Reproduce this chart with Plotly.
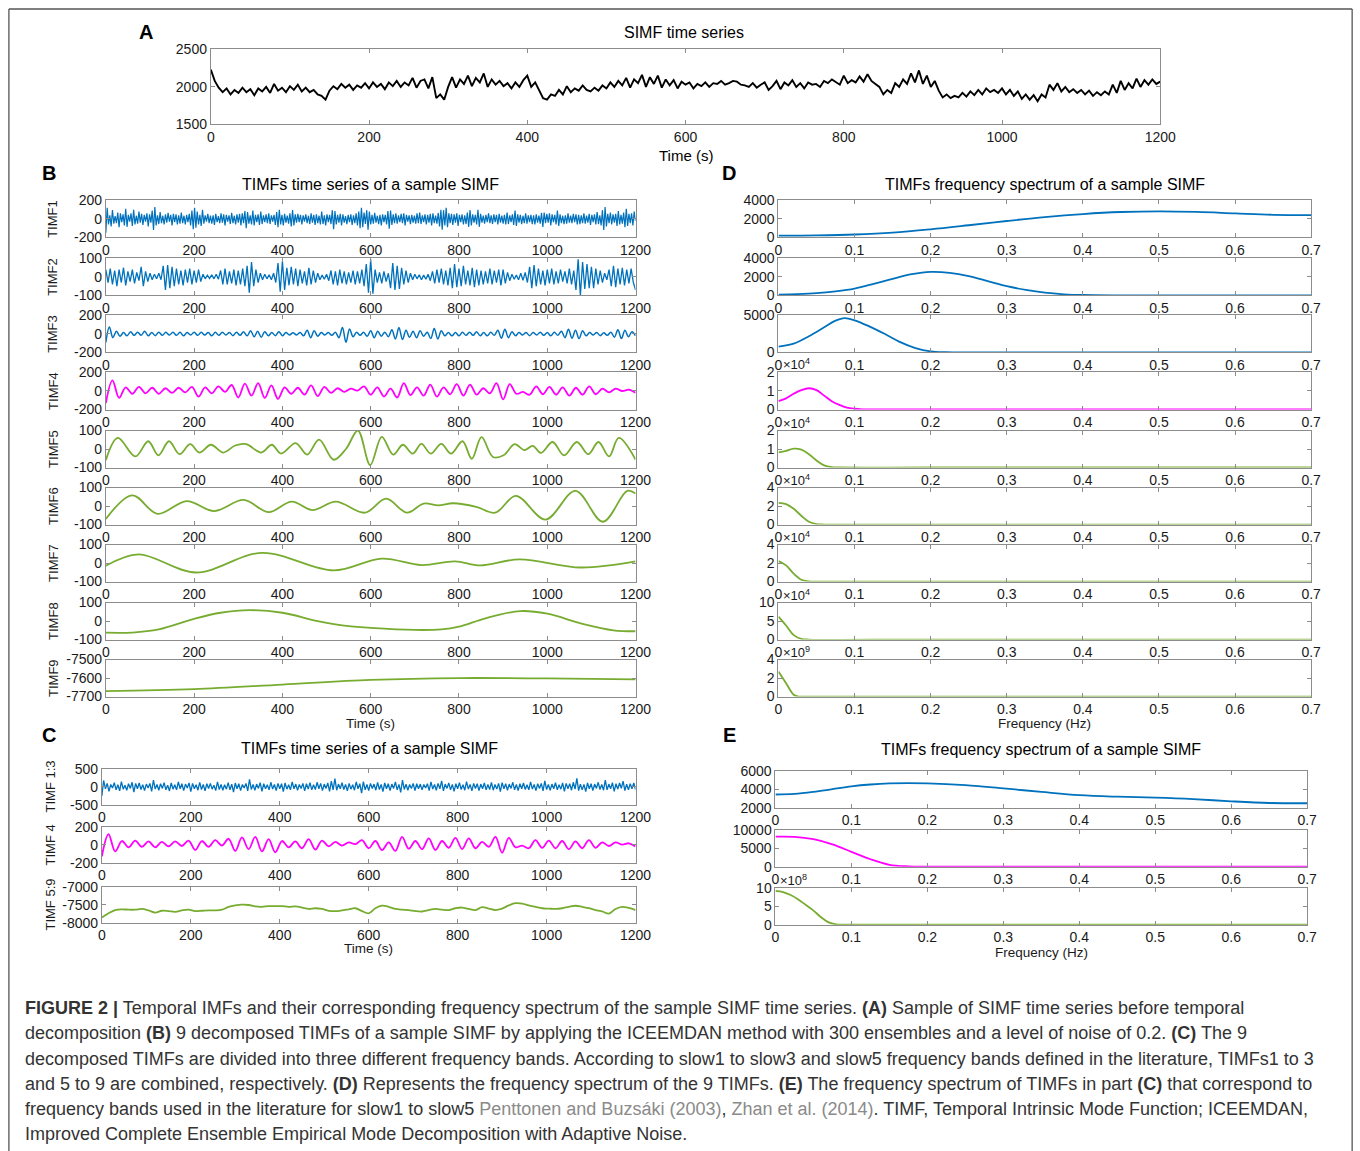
import numpy as np
import plotly.graph_objects as go

# Layout positions below are given in target-picture pixels (1360 x 1151) and
# converted to paper coordinates with the measured page placement of the figure
# (page body margin is removed by a small post script).
FIG_W, FIG_H = 1375, 1165
SCALE = 0.986
OFF_X, OFF_Y = 3.1, 6.6
FONT = "Liberation Sans, Arial, Helvetica, sans-serif"
TXT = "#1a1a1a"
BOX = "#8c8c8c"
BLUE = "#0072BD"
MAG = "#FF00FF"
GREEN = "#77AC30"

# ---------------- data ----------------
simf = [2230, 2080, 1990, 1930, 1980, 1900, 1960, 1920, 1990, 1930, 1970, 1890, 1980, 1940, 2000, 1920, 2040, 1950, 1990, 1930,
        2010, 1960, 2030, 1940, 1990, 1930, 1960, 1900, 1880, 1830, 1950, 2010, 1970, 2040, 1990, 2030, 1960, 2020, 1990, 2050,
        1980, 2060, 2000, 2040, 1970, 2060, 2010, 2080, 2000, 2060, 2020, 2120, 1990, 2080, 2100, 1980, 2130, 1850, 1900, 1830,
        2000, 2130, 1990, 2100, 2040, 2150, 2010, 2120, 2060, 2180, 2000, 2100, 2030, 2080, 2010, 2050, 1980, 2060, 2000, 2090,
        2150, 2000, 2060, 1950, 1850, 1830, 1900, 1880, 1960, 1900, 2010, 1930, 1980, 1950, 2020, 1960, 1940, 1990, 1950, 2020,
        1980, 2060, 2000, 2080, 2020, 2120, 1990, 2100, 2050, 2160, 2000, 2130, 2040, 2150, 1990, 2100, 2020, 2090, 1980, 2070,
        2030, 2060, 1980, 2040, 2010, 2060, 2000, 2050, 2040, 2080, 2030, 2050, 2080, 2070, 2030, 2020, 2000, 2050, 1990, 2030,
        2060, 1960, 2010, 2080, 1970, 2060, 2020, 2090, 2000, 2050, 1980, 2060, 2030, 2040, 2000, 2080, 2050, 2100, 2060, 2030,
        2150, 2050, 2090, 2060, 2140, 2070, 2170, 2080, 2040, 2000, 1900, 1960, 1920, 2050, 2000, 2100, 2040, 2180, 2060, 2220,
        2040, 2150, 2000, 2080, 1950, 1860, 1900, 1850, 1880, 1860, 1920, 1870, 1940, 1890, 1960, 1900, 1980, 1930, 1960, 1920,
        1980, 1900, 1960, 1880, 1940, 1840, 1900, 1830, 1890, 1810, 1900, 1860, 2030, 1960, 2050, 1940, 2000, 1930, 1970, 1920,
        1960, 1900, 1950, 1880, 1930, 1890, 1940, 1900, 2030, 1920, 2080, 1960, 2050, 1980, 2110, 2000, 2090, 2030, 2100, 2040,
        2070]

timf1 = [-150, 120, -60, 40, -80, 95, -50, 30, -45, 70, -90, 60, -35, 50, -70, 110, -85, 45, -30, 60,
         -75, 100, -60, 35, -50, 80, -40, 55, -65, 45, -30, 60, -80, 50, -40, 90, -120, 130, -70, 40,
         -55, 75, -45, 35, -60, 50, -40, 65, -30, 45, -70, 55, -35, 50, -60, 40, -50, 70, -45, 35,
         -60, 45, -35, 55, -70, 90, -110, 120, -95, 80, -60, 45, -75, 100, -50, 40, -30, 55, -45, 35,
         -50, 40, -65, 55, -35, 30, -45, 60, -40, 50, -70, 45, -30, 40, -55, 65, -45, 35, -60, 50,
         -40, 55, -70, 60, -45, 85, -100, 75, -50, 40, -60, 90, -70, 45, -35, 50, -65, 80, -55, 40,
         -35, 50, -45, 60, -55, 40, -30, 45, -65, 75, -90, 100, -60, 45, -70, 55, -40, 35, -50, 60,
         -80, 95, -70, 50, -40, 55, -35, 45, -60, 40, -30, 50, -45, 35, -55, 60, -40, 45, -65, 50,
         -45, 35, -60, 80, -55, 40, -70, 50, -35, 45, -55, 95, -110, 85, -60, 45, -40, 55, -70, 50,
         -40, 30, -55, 45, -35, 50, -65, 40, -45, 60, -70, 80, -100, 120, -90, 70, -55, 95, -115, 80,
         -60, 45, -50, 65, -40, 35, -55, 45, -70, 50, -35, 45, -60, 85, -105, 90, -65, 50, -45, 60,
         -50, 40, -35, 55, -45, 60, -70, 45, -30, 40, -55, 45, -40, 35, -50, 60, -45, 70, -55, 40,
         -35, 50, -60, 45, -40, 55, -70, 60, -45, 35, -50, 65, -80, 100, -115, 95, -70, 120, -90, 60,
         -45, 55, -65, 50, -40, 60, -75, 45, -35, 50, -60, 40, -55, 70, -85, 95, -70, 50, -40, 45,
         -60, 100, -85, 55, -40, 35, -50, 45, -35, 60, -45, 40, -55, 50, -35, 45, -60, 55, -40, 35,
         -50, 45, -60, 70, -55, 40, -35, 50, -65, 90, -75, 50, -40, 45, -55, 35, -45, 60, -50, 40,
         -35, 45, -55, 40, -60, 50, -40, 35, -50, 65, -85, 70, -45, 55, -40, 60, -70, 50, -35, 45,
         -60, 90, -75, 50, -45, 35, -55, 40, -50, 60, -40, 35, -45, 55, -35, 50, -60, 45, -55, 40,
         -45, 60, -50, 35, -40, 55, -65, 45, -35, 50, -60, 75, -55, 40, -70, 95, -120, 130, -80, 55,
         -45, 70, -60, 50, -40, 55, -75, 85, -60, 45, -50, 70, -90, 110, -75, 55, -45, 60, -70, 80,
         -20]

timf2 = [40, -30, 45, -40, 35, -50, 40, -30, 50, -45, 30, -25, 40, -35, 25, -20, 55, -50, 30, -25,
         20, -15, 15, -10, 20, -15, 60, -70, 65, -60, 55, -50, 45, -40, 35, -45, 40, -30, 45, -40,
         35, -30, 40, -25, 15, -10, 10, -8, 12, -10, 15, -12, 35, -40, 45, -40, 30, -35, 40, -45,
         35, -40, 45, -50, 60, -85, 80, -50, 40, -30, 20, -15, 15, -10, 12, -15, 20, -30, 75, -80,
         85, -70, 50, -45, 55, -40, 45, -50, 40, -35, 30, -45, 50, -40, 35, -30, 20, -15, 10, -12,
         15, -20, 35, -40, 30, -45, 40, -35, 30, -40, 25, -30, 35, -40, 30, -35, 40, -50, 70, -85,
         95, -90, 40, -30, 25, -35, 30, -25, 20, -60, 75, -70, 60, -65, 50, -40, 35, -30, 20, -15,
         15, -10, 12, -15, 10, -12, 15, -20, 30, -35, 40, -30, 45, -40, 35, -45, 50, -60, 70, -55,
         45, -50, 60, -40, 35, -45, 50, -55, 40, -45, 35, -40, 30, -35, 45, -40, 35, -30, 40, -45,
         40, -35, 25, -20, 15, -12, 10, -15, 20, -18, 25, -30, 55, -60, 65, -50, 45, -40, 35, -45,
         40, -35, 45, -40, 30, -35, 40, -25, 30, -35, 45, -40, 35, -70, 95, -100, 80, -65, 70, -60,
         55, -60, 45, -40, 35, -30, 20, -15, 40, -50, 60, -55, 45, -40, 50, -45, 40, -35, 45, -30,
         -70]

timf3 = [-90, 75, -40, 30, -25, 15, -20, 25, -15, 20, -15, 30, -20, 15, -18, 20, -15, 18, -12, 20, -15, 18, -20, 15, -12,
         20, -15, 18, -12, 15, -20, 18, -15, 20, -12, 15, -18, 20, -15, 25, -20, 35, -30, 30, -35, 25, -20, 15, -18, 25,
         -20, 15, -10, 12, -10, 15, -20, 40, -40, 35, -25, 15, -12, 15, -15, 20, -40, 70, -90, 55, -30, 20, -15, 20, -25,
         35, -40, 30, -25, 20, -30, 45, -55, 70, -60, 40, -35, 30, -40, 35, -25, 20, -50, 60, -55, 35, -20, 15, -20, 15,
         -20, 18, -15, 20, -15, 25, -20, 15, -20, 18, -15, 40, -45, 50, -40, 25, -20, 15, -12, 15, -18, 15, -12, 20, -15,
         15, -20, 18, -15, 30, -40, 50, -45, 40, -50, 35, -20, 15, -12, 15, -18, 12, -15, 20, -35, 45, -50, 40, -30, 25,
         -20]

timf4 = [-130, 115, -75, 40, -30, 45, -25, 35, -30, 30, -20, 35, -15, 45, -60, 40, -25, 50, -10, 65,
         -70, 80, -50, 85, -75, 60, -85, 40, -30, 35, -40, 60, -55, 45, -20, 30, -10, 25, 5, 50,
         -40, 40, -60, 25, -70, 85, -45, 40, -50, 70, -60, 40, -35, 75, -50, 70, -40, 30, -25, 85,
         -90, 75, -30, -10, -40, 50, -35, 45, -40, 40, -50, 35, -40, 50, -35, 25, -15, 25, 0, 15,
         -20]

timf5_t = [0, 27, 67, 96, 119, 143, 167, 191, 212, 238, 266, 293, 318, 352, 376, 397, 430, 456, 483, 516,
           544, 571, 599, 625, 651, 673, 695, 715, 736, 760, 782, 808, 829, 851, 877, 901, 926, 948, 967, 986,
           1012, 1038, 1067, 1093, 1116, 1140, 1162, 1200]
timf5_v = [-60, 60, -40, 42, -34, 42, -28, 26, -19, 23, -19, 19, 26, -19, 23, -25, 32, -30, 51, -58,
           0, 100, -87, 66, -30, 23, -25, 28, -25, 28, -25, 42, -53, 64, -43, -34, 26, -6, 17, -21,
           38, -34, 38, -28, 38, -40, 60, -57]

timf6_t = [0, 60, 117, 183, 245, 312, 369, 421, 468, 521, 587, 635, 682, 720, 753, 787, 839, 882, 929, 996,
           1064, 1126, 1181, 1200]
timf6_v = [-70, 58, -42, 27, -27, 33, -33, 24, -22, 24, -36, 40, -36, 13, 4, 15, -4, -36, 55, -73,
           82, -85, 82, 67]

timf7_t = [0, 74, 204, 354, 516, 625, 715, 791, 848, 937, 1076, 1200]
timf7_v = [-15, 47, -51, 55, -40, 24, -11, 9, -13, 20, -24, 9]

timf8_t = [0, 60, 120, 200, 260, 326, 400, 480, 540, 600, 700, 760, 800, 860, 939, 1000, 1080, 1150, 1200]
timf8_v = [-63, -62, -45, 12, 45, 59, 45, 0, -25, -37, -48, -45, -30, 15, 54, 40, -15, -50, -55]

timf9_t = [0, 200, 400, 600, 800, 1000, 1200]
timf9_v = [-7670, -7660, -7635, -7610, -7600, -7602, -7607]

timf13 = [-260, 170, -60, 90, -130, 60, -40, 110, -90, 50, -120, 140, -70, 40, -100, 80, -50, 120, -150, 90,
          -60, 100, -80, 50, -110, 70, -40, 90, -130, 180, -70, 60, -100, 80, -50, 110, -90, 40, -120, 100,
          -70, 50, -90, 130, -60, 80, -110, 70, -40, 100, -140, 90, -60, 50, -100, 120, -80, 60, -120, 80,
          -50, 90, -70, 40, -110, 130, -80, 60, -100, 50, -70, 110, -90, 70, -150, 100, -60, 80, -110, 60,
          -40, 90, -120, 200, -80, 60, -100, 70, -50, 110, -130, 80, -60, 50, -90, 120, -70, 60, -110, 90,
          -60, 80, -140, 100, -70, 50, -90, 130, -60, 70, -100, 60, -50, 90, -120, 80, -70, 110, -90, 50,
          -80, 120, -60, 90, -110, 70, -50, 100, -130, 150, -90, 220, -100, 70, -60, 110, -80, 60, -120, 90,
          -70, 50, -100, 130, -60, 80, -180, 140, -90, 60, -110, 90, -50, 70, -100, 120, -80, 60, -140, 100,
          -60, 80, -110, 70, -50, 130, -90, 60, -160, 180, -80, 70, -100, 60, -50, 90, -110, 80, -60, 70,
          -90, 60, -40, 80, -110, 130, -70, 60, -100, 90, -60, 160, -120, 70, -50, 100, -90, 60, -130, 80,
          -60, 110, -80, 50, -100, 140, -70, 60, -120, 90, -50, 80, -110, 70, -60, 100, -90, 60, -80, 120,
          -100, 60, -70, 90, -140, 110, -60, 80, -100, 70, -50, 120, -90, 60, -110, 80, -60, 100, -80, 50,
          -90, 130, -70, 60, -110, 80, -50, 90, -120, 160, -80, 60, -100, 70, -60, 110, -90, 50, -70, 100,
          -130, 90, -60, 80, -100, 120, -70, 230, -110, 70, -90, 60, -140, 100, -60, 80, -110, 70, -50, 120,
          -80, 60, -100, 180, -90, 70, -60, 110, -130, 80, -70, 100, -50, 150, -110, 70, -90, 80, -60, 100,
          -80]

timf59 = [-7860, -7740, -7650, -7630, -7640, -7640, -7620, -7660, -7720, -7670, -7680, -7700, -7660, -7640, -7680, -7670, -7660, -7660, -7640, -7560,
          -7520, -7500, -7510, -7550, -7560, -7540, -7540, -7540, -7560, -7550, -7580, -7620, -7600, -7620, -7670, -7680, -7660, -7630, -7600, -7680,
          -7740, -7600, -7530, -7560, -7620, -7640, -7650, -7680, -7690, -7650, -7620, -7640, -7650, -7600, -7580, -7620, -7650, -7570, -7610, -7650,
          -7610, -7520, -7460, -7470, -7520, -7560, -7600, -7610, -7620, -7600, -7560, -7530, -7560, -7600, -7650, -7690, -7750, -7620, -7560, -7590,
          -7650]

# spectra (frequency in Hz, power)
d1_f = [0, .05, .1, .15, .2, .25, .3, .35, .4, .45, .5, .55, .6, .65, .7]
d1_v = [200, 230, 320, 520, 880, 1320, 1780, 2200, 2530, 2750, 2830, 2760, 2600, 2450, 2420]
d2_f = [0, .025, .05, .075, .1, .125, .15, .175, .2, .225, .25, .275, .3, .325, .35, .375, .4, .45, .5, .6, .7]
d2_v = [100, 150, 250, 450, 750, 1250, 1800, 2300, 2550, 2450, 2100, 1550, 1000, 600, 300, 130, 50, 10, 0, 0, 0]
d3_f = [0, .02, .04, .06, .075, .087, .1, .12, .14, .16, .18, .2, .22, .25, .3, .5, .7]
d3_v = [800, 1200, 2200, 3400, 4300, 4650, 4350, 3500, 2500, 1400, 600, 150, 30, 0, 0, 0, 0]
d4_f = [0, .01, .02, .03, .04, .05, .06, .07, .08, .09, .1, .11, .12, .2, .7]
d4_v = [4500, 6000, 8500, 10500, 11500, 10500, 7500, 4500, 2500, 1000, 400, 100, 0, 0, 0]
d5_f = [0, .01, .02, .03, .04, .05, .06, .07, .08, .2, .7]
d5_v = [8200, 9000, 10200, 9700, 7200, 3800, 1200, 200, 0, 0, 0]
d6_f = [0, .01, .02, .03, .04, .05, .06, .2, .7]
d6_v = [23500, 22000, 17000, 9500, 3000, 500, 0, 0, 0]
d7_f = [0, .01, .02, .03, .04, .05, .2, .7]
d7_v = [22000, 17500, 8500, 2000, 200, 0, 0, 0]
d8_f = [0, .01, .02, .03, .04, .2, .7]
d8_v = [62000, 38000, 12000, 2000, 0, 0, 0]
d9_f = [0, .01, .02, .025, .03, .2, .7]
d9_v = [2.7e9, 1.45e9, 0.2e9, 0.03e9, 0, 0, 0]

e1_f = [0, .025, .05, .075, .1, .125, .15, .175, .2, .25, .3, .35, .4, .45, .5, .55, .6, .65, .7]
e1_v = [3420, 3480, 3700, 4000, 4300, 4500, 4620, 4650, 4620, 4420, 4080, 3700, 3350, 3180, 3080, 2920, 2680, 2500, 2470]
e2_f = [0, .025, .05, .075, .1, .125, .15, .175, .2, .3, .7]
e2_v = [8100, 8050, 7400, 6000, 4000, 2000, 500, 80, 0, 0, 0]
e3_f = [0, .01, .02, .03, .04, .05, .06, .07, .08, .09, .2, .7]
e3_v = [9.1e8, 8.8e8, 8.0e8, 6.8e8, 5.3e8, 3.8e8, 2.0e8, 0.6e8, 0.1e8, 0, 0, 0]

time_ticks = [0, 200, 400, 600, 800, 1000, 1200]
freq_ticks = [0, 0.1, 0.2, 0.3, 0.4, 0.5, 0.6, 0.7]
freq_ticktext = ["0", "0.1", "0.2", "0.3", "0.4", "0.5", "0.6", "0.7"]

# ---------------- figure ----------------
fig = go.Figure()
layout = {}
annotations = []
counter = [0]
TICK_SIZE = 14


def fx(x):
    return min(max((x - OFF_X) / SCALE, 1.0), FIG_W - 1.0)


def fy(y):
    return min(max((y - OFF_Y) / SCALE, 1.0), FIG_H - 1.0)


def px(x):
    return fx(x) / FIG_W


def py(y):
    return 1 - fy(y) / FIG_H


def tt(vals):
    return [str(v) for v in vals]


def add_axes(x0, x1, y0, y1, xr, yr, xt, xtt, yt, ytt):
    counter[0] += 1
    i = counter[0]
    s = "" if i == 1 else str(i)
    common = dict(showline=True, linecolor=BOX, linewidth=1, mirror="ticks", ticks="inside",
                  ticklen=4, tickwidth=1, tickcolor=BOX, showgrid=False, zeroline=False,
                  tickfont=dict(family=FONT, size=TICK_SIZE, color=TXT), fixedrange=True)
    layout["xaxis" + s] = dict(domain=[px(x0), px(x1)], range=xr, tickmode="array", tickvals=xt,
                               ticktext=xtt, anchor="y" + s, **common)
    layout["yaxis" + s] = dict(domain=[py(y1), py(y0)], range=yr, tickmode="array", tickvals=yt,
                               ticktext=ytt, anchor="x" + s, **common)
    return "x" + s, "y" + s


def line(xa, ya, x, y, color, width=1.5, shape="linear"):
    fig.add_trace(go.Scatter(x=x, y=y, mode="lines", xaxis=xa, yaxis=ya,
                             line=dict(color=color, width=width, shape=shape, smoothing=1.0),
                             hoverinfo="skip", showlegend=False))


def text(x, y, t, size=15, bold=False, xanchor="center", angle=0, color="#000000"):
    annotations.append(dict(xref="paper", yref="paper", x=px(x), y=py(y),
                            text=("<b>%s</b>" % t) if bold else t,
                            showarrow=False, xanchor=xanchor, yanchor="middle", textangle=angle,
                            font=dict(family=FONT, size=size, color=color)))


TT = tt(time_ticks)

# ---- Panel A ----
xa, ya = add_axes(210, 1160, 48, 123, [0, 1200], [1500, 2500], time_ticks, TT,
                  [1500, 2000, 2500], ["1500", "2000", "2500"])
line(xa, ya, np.linspace(0, 1200, len(simf)), simf, "#000000", 1.9)
text(145, 31, "A", 20, bold=True)
text(683, 31, "SIMF time series", 16)
text(685, 154, "Time (s)", 15)

# ---- Panel B ----
b_tops = [199, 257, 314, 371, 429, 486, 543, 601, 658]
b_h = 37
b_series = [
    ("TIMF1", np.linspace(0, 1200, len(timf1)), timf1, BLUE, [-200, 200], [-200, 0, 200], "linear", 1.2),
    ("TIMF2", np.linspace(0, 1200, len(timf2)), timf2, BLUE, [-100, 100], [-100, 0, 100], "linear", 1.3),
    ("TIMF3", np.linspace(0, 1200, len(timf3)), timf3, BLUE, [-200, 200], [-200, 0, 200], "spline", 1.5),
    ("TIMF4", np.linspace(0, 1200, len(timf4)), timf4, MAG, [-200, 200], [-200, 0, 200], "spline", 1.8),
    ("TIMF5", timf5_t, timf5_v, GREEN, [-100, 100], [-100, 0, 100], "spline", 1.8),
    ("TIMF6", timf6_t, timf6_v, GREEN, [-100, 100], [-100, 0, 100], "spline", 1.8),
    ("TIMF7", timf7_t, timf7_v, GREEN, [-100, 100], [-100, 0, 100], "spline", 1.8),
    ("TIMF8", timf8_t, timf8_v, GREEN, [-100, 100], [-100, 0, 100], "spline", 1.8),
    ("TIMF9", timf9_t, timf9_v, GREEN, [-7700, -7500], [-7700, -7600, -7500], "spline", 1.8),
]
for top, (name, xs, ys, col, yr, yt, shp, lw) in zip(b_tops, b_series):
    xa, ya = add_axes(105, 635, top, top + b_h, [0, 1200], yr, time_ticks, TT, yt, tt(yt))
    line(xa, ya, xs, ys, col, lw, shp)
    text(52, top + b_h / 2, name, 13, angle=-90, color=TXT)
text(48, 172, "B", 20, bold=True)
text(370, 183, "TIMFs time series of a sample SIMF", 16)
text(370, 722, "Time (s)", 13.5, color=TXT)

# ---- Panel C ----
c_tops = [767, 825, 885]
c_h = 36
c_series = [
    ("TIMF 1:3", np.linspace(0, 1200, len(timf13)), timf13, BLUE, [-500, 500], [-500, 0, 500], "linear", 1.3),
    ("TIMF 4", np.linspace(0, 1200, len(timf4)), timf4, MAG, [-200, 200], [-200, 0, 200], "spline", 1.8),
    ("TIMF 5:9", np.linspace(0, 1200, len(timf59)), timf59, GREEN, [-8000, -7000], [-8000, -7500, -7000], "spline", 1.8),
]
for top, (name, xs, ys, col, yr, yt, shp, lw) in zip(c_tops, c_series):
    xa, ya = add_axes(101, 635, top, top + c_h, [0, 1200], yr, time_ticks, TT, yt, tt(yt))
    line(xa, ya, xs, ys, col, lw, shp)
    text(50, top + c_h / 2, name, 13, angle=-90, color=TXT)
text(48, 733, "C", 20, bold=True)
text(369, 747, "TIMFs time series of a sample SIMF", 16)
text(368, 947, "Time (s)", 13.5, color=TXT)

# ---- Panel D ----
d_series = [
    (d1_f, d1_v, BLUE, [0, 4000], [0, 2000, 4000], ["0", "2000", "4000"], None),
    (d2_f, d2_v, BLUE, [0, 4000], [0, 2000, 4000], ["0", "2000", "4000"], None),
    (d3_f, d3_v, BLUE, [0, 5000], [0, 5000], ["0", "5000"], None),
    (d4_f, d4_v, MAG, [0, 20000], [0, 10000, 20000], ["0", "1", "2"], "4"),
    (d5_f, d5_v, GREEN, [0, 20000], [0, 10000, 20000], ["0", "1", "2"], "4"),
    (d6_f, d6_v, GREEN, [0, 40000], [0, 20000, 40000], ["0", "2", "4"], "4"),
    (d7_f, d7_v, GREEN, [0, 40000], [0, 20000, 40000], ["0", "2", "4"], "4"),
    (d8_f, d8_v, GREEN, [0, 100000], [0, 50000, 100000], ["0", "5", "10"], "4"),
    (d9_f, d9_v, GREEN, [0, 4e9], [0, 2e9, 4e9], ["0", "2", "4"], "9"),
]
for top, (fs, vs, col, yr, yt, ytt, ex) in zip(b_tops, d_series):
    xa, ya = add_axes(778, 1311, top, top + b_h, [0, 0.7], yr, freq_ticks, freq_ticktext, yt, ytt)
    line(xa, ya, fs, vs, col, 1.8, "spline")
    if ex:
        text(781, top - 8, "×10<sup>%s</sup>" % ex, 13, xanchor="left", color=TXT)
text(729, 172, "D", 20, bold=True)
text(1045, 183, "TIMFs frequency spectrum of a sample SIMF", 16)
text(1044, 722, "Frequency (Hz)", 13.5, color=TXT)

# ---- Panel E ----
e_tops = [769, 828, 886]
e_series = [
    (e1_f, e1_v, BLUE, [2000, 6000], [2000, 4000, 6000], ["2000", "4000", "6000"], None),
    (e2_f, e2_v, MAG, [0, 10000], [0, 5000, 10000], ["0", "5000", "10000"], None),
    (e3_f, e3_v, GREEN, [0, 1e9], [0, 5e8, 1e9], ["0", "5", "10"], "8"),
]
for top, (fs, vs, col, yr, yt, ytt, ex) in zip(e_tops, e_series):
    xa, ya = add_axes(775, 1307, top, top + b_h, [0, 0.7], yr, freq_ticks, freq_ticktext, yt, ytt)
    line(xa, ya, fs, vs, col, 1.8, "spline")
    if ex:
        text(778, top - 8, "×10<sup>%s</sup>" % ex, 13, xanchor="left", color=TXT)
text(729, 733, "E", 20, bold=True)
text(1041, 748, "TIMFs frequency spectrum of a sample SIMF", 16)
text(1041, 951, "Frequency (Hz)", 13.5, color=TXT)

# ---- caption ----
REF = "<span style='color:#8a8a8a'>%s</span>"
caption = [
    "<b>FIGURE 2 |</b> Temporal IMFs and their corresponding frequency spectrum of the sample SIMF time series. <b>(A)</b> Sample of SIMF time series before temporal",
    "decomposition <b>(B)</b> 9 decomposed TIMFs of a sample SIMF by applying the ICEEMDAN method with 300 ensembles and a level of noise of 0.2. <b>(C)</b> The 9",
    "decomposed TIMFs are divided into three different frequency bands. According to slow1 to slow3 and slow5 frequency bands defined in the literature, TIMFs1 to 3",
    "and 5 to 9 are combined, respectively. <b>(D)</b> Represents the frequency spectrum of the 9 TIMFs. <b>(E)</b> The frequency spectrum of TIMFs in part <b>(C)</b> that correspond to",
    "frequency bands used in the literature for slow1 to slow5 " + REF % "Penttonen and Buzsáki (2003)" + ", "
    + REF % "Zhan et al. (2014)" + ". TIMF, Temporal Intrinsic Mode Function; ICEEMDAN,",
    "Improved Complete Ensemble Empirical Mode Decomposition with Adaptive Noise.",
]
cap_y = [1006, 1031, 1057, 1082, 1107, 1132]
for yy, ln in zip(cap_y, caption):
    text(22, yy, ln, 18, xanchor="left", color="#333333")

# outer frame (left, top, right edges)
frame = dict(color="#555555", width=1.3)
shapes = [
    dict(type="line", xref="paper", yref="paper", x0=px(8), x1=px(8), y0=0, y1=py(6), line=frame),
    dict(type="line", xref="paper", yref="paper", x0=px(8), x1=px(1352), y0=py(6), y1=py(6), line=frame),
    dict(type="line", xref="paper", yref="paper", x0=px(1352), x1=px(1352), y0=0, y1=py(6), line=frame),
]

fig.update_layout(width=FIG_W, height=FIG_H, margin=dict(l=0, r=0, t=0, b=0), autosize=False,
                  paper_bgcolor="white", plot_bgcolor="white", showlegend=False,
                  annotations=annotations, shapes=shapes, font=dict(family=FONT, color=TXT), **layout)
fig.write_html("out.html", config={"displayModeBar": False, "staticPlot": True},
               post_script="document.body.style.margin='0px';document.body.style.padding='0px';"
                           "document.body.style.overflow='hidden';"
                           "document.documentElement.style.overflow='hidden';")
